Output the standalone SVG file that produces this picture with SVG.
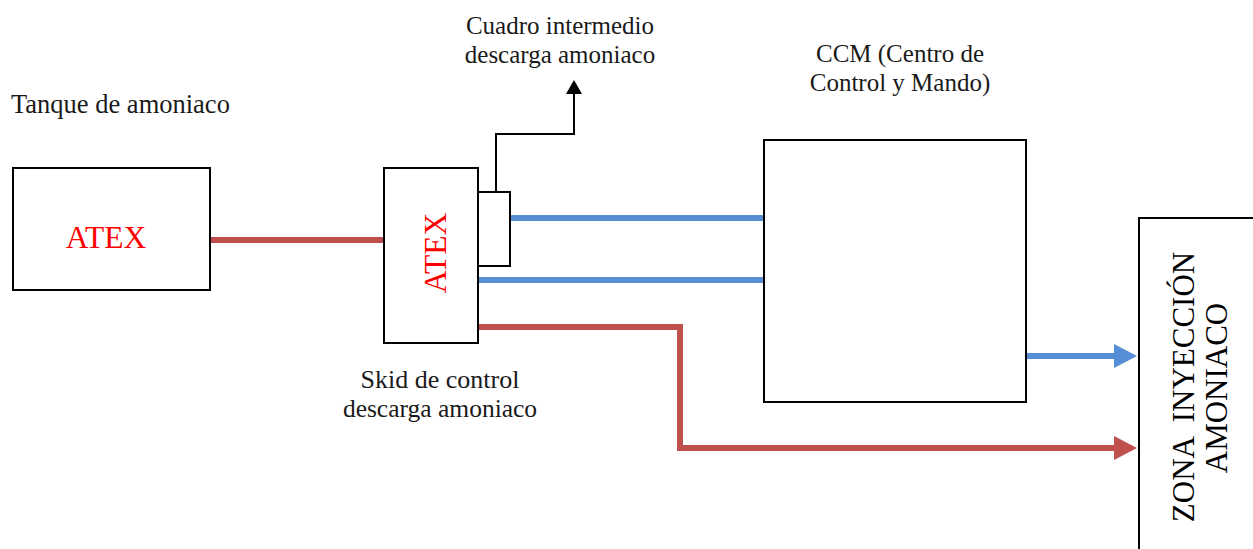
<svg xmlns="http://www.w3.org/2000/svg" width="1253" height="549" viewBox="0 0 1253 549">
<style>
.box{fill:#fff;stroke:#000;stroke-width:2}
.lbl{font-family:"Liberation Serif",serif;font-size:25px;fill:#1a1a1a}
.atex{font-family:"Liberation Serif",serif;font-size:31.5px;fill:#ff0000}
.zona{font-family:"Liberation Serif",serif;font-size:31px;fill:#000}
.red{fill:none;stroke:#C0504D;stroke-width:6}
.blue{fill:none;stroke:#558ED5;stroke-width:6}
.blk{fill:none;stroke:#000;stroke-width:2}
</style>
<rect width="1253" height="549" fill="#fff"/>
<g id="connectors">
  <path class="red" d="M210 240 H384"/>
  <path class="blue" d="M510 218 H764"/>
  <path class="blue" d="M478 280 H764"/>
  <path class="red" d="M478 327 H680 V448 H1116"/>
  <polygon points="1114,436 1137,448 1114,460" fill="#C0504D"/>
  <path class="blue" d="M1026 356 H1116"/>
  <polygon points="1114,344 1137,356 1114,368" fill="#558ED5"/>
  <path class="blk" d="M496 192 V134 H574 V92"/>
  <polygon points="566,94 574,80 582,94" fill="#000"/>
</g>
<g id="tanque">
  <rect class="box" x="13" y="168" width="197" height="122"/>
  <text class="atex" x="106" y="248" text-anchor="middle">ATEX</text>
  <text class="lbl" x="11" y="113" style="font-size:26.5px">Tanque de amoniaco</text>
</g>
<g id="skid">
  <rect class="box" x="384" y="168" width="94" height="175"/>
  <text class="atex" transform="translate(446,253) rotate(-90)" text-anchor="middle">ATEX</text>
  <text class="lbl" x="440" y="388" text-anchor="middle" style="font-size:26px">Skid de control</text>
  <text class="lbl" x="440" y="417" text-anchor="middle" style="font-size:25.5px">descarga amoniaco</text>
</g>
<g id="cuadro">
  <rect class="box" x="478" y="192" width="32" height="74"/>
  <text class="lbl" x="560" y="34" text-anchor="middle">Cuadro intermedio</text>
  <text class="lbl" x="560" y="63" text-anchor="middle">descarga amoniaco</text>
</g>
<g id="ccm">
  <rect class="box" x="764" y="140" width="262" height="262"/>
  <text class="lbl" x="900" y="62" text-anchor="middle">CCM (Centro de</text>
  <text class="lbl" x="900" y="91" text-anchor="middle">Control y Mando)</text>
</g>
<g id="zona">
  <rect class="box" x="1139" y="218" width="130" height="345"/>
  <text class="zona" transform="translate(1194,387) rotate(-90)" text-anchor="middle" xml:space="preserve">ZONA  INYECCIÓN</text>
  <text class="zona" transform="translate(1227,388) rotate(-90)" text-anchor="middle">AMONIACO</text>
</g>
</svg>
